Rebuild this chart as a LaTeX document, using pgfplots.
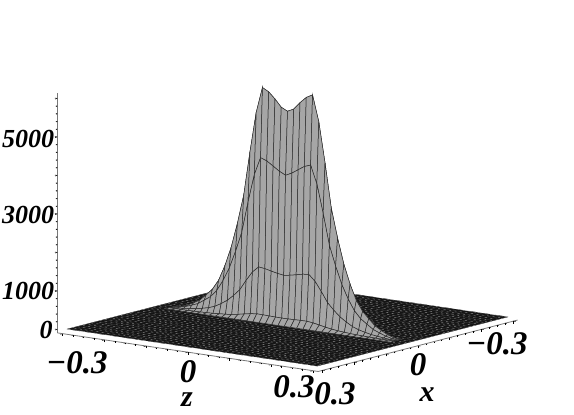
\documentclass[border=0pt]{standalone}
\usepackage{pgfplots}
\pgfplotsset{compat=1.18}
\usepackage{fontspec}
\setmainfont{Liberation Serif}
\definecolor{ridge}{HTML}{A6A6A6}
\definecolor{meshc}{HTML}{2C2C2C}
\definecolor{floorc}{HTML}{141414}
\definecolor{floorl}{HTML}{3A3A3A}
\definecolor{floord}{HTML}{9A9A9A}
\definecolor{axisc}{HTML}{777777}
\newcommand{\lab}[3]{\node[font=\fontsize{#3}{#3}\selectfont\bfseries\itshape,inner sep=0pt] at (#1) {#2};}
\pgfplotsset{common/.style={
  at={(287.5pt,92pt)},anchor=origin,
  disabledatascaling,
  y={(318pt,82pt)},z={(0pt,0.0385pt)},
  xmin=-0.3126,xmax=0.3126,ymin=-0.3135,ymax=0.3135,zmin=-90,zmax=6130,
  axis line style={-,color=axisc,line width=0.8pt},
  tick align=outside,
  major tick length=2.5pt,minor tick length=1.5pt,
  tick style={black,line width=0.5pt},
  xtick={-0.3,-0.2,-0.1,0,0.1,0.2,0.3},ytick={-0.3,-0.2,-0.1,0,0.1,0.2,0.3},
  ztick={0,1000,2000,3000,4000,5000,6000},
  minor x tick num=3,minor y tick num=3,minor z tick num=4,
  xticklabel=\empty,yticklabel=\empty,zticklabel=\empty,
  grid=none,clip=false}}
\begin{document}
\begin{tikzpicture}[x=1pt,y=1pt]
\useasboundingbox (0,0) rectangle (574,415);
\begin{axis}[common,x={(417pt,-61.7pt)},
  axis x line*=bottom,axis y line=none,axis z line*=left,
  colormap={ridgemap}{color=(ridge) color=(ridge)},
]
% floor
\addplot3[fill=floorc,draw=none] coordinates {(-0.3,-0.3,0)(0.3,-0.3,0)(0.3,0.3,0)(-0.3,0.3,0)};
\addplot3[no marks,color=floorl,line width=0.3pt] coordinates {
(-0.3,-0.3,0)(-0.3,0.3,0)(-0.285,0.3,0)(-0.285,-0.3,0)(-0.27,-0.3,0)(-0.27,0.3,0)(-0.255,0.3,0)(-0.255,-0.3,0)
(-0.24,-0.3,0)(-0.24,0.3,0)(-0.225,0.3,0)(-0.225,-0.3,0)(-0.21,-0.3,0)(-0.21,0.3,0)(-0.195,0.3,0)(-0.195,-0.3,0)
(-0.18,-0.3,0)(-0.18,0.3,0)(-0.165,0.3,0)(-0.165,-0.3,0)(-0.15,-0.3,0)(-0.15,0.3,0)(-0.135,0.3,0)(-0.135,-0.3,0)
(-0.12,-0.3,0)(-0.12,0.3,0)(-0.105,0.3,0)(-0.105,-0.3,0)(-0.09,-0.3,0)(-0.09,0.3,0)(-0.075,0.3,0)(-0.075,-0.3,0)
(-0.06,-0.3,0)(-0.06,0.3,0)(-0.045,0.3,0)(-0.045,-0.3,0)(-0.03,-0.3,0)(-0.03,0.3,0)(-0.015,0.3,0)(-0.015,-0.3,0)
(0,-0.3,0)(0,0.3,0)(0.015,0.3,0)(0.015,-0.3,0)(0.03,-0.3,0)(0.03,0.3,0)(0.045,0.3,0)(0.045,-0.3,0)
(0.06,-0.3,0)(0.06,0.3,0)(0.075,0.3,0)(0.075,-0.3,0)(0.09,-0.3,0)(0.09,0.3,0)(0.105,0.3,0)(0.105,-0.3,0)
(0.12,-0.3,0)(0.12,0.3,0)(0.135,0.3,0)(0.135,-0.3,0)(0.15,-0.3,0)(0.15,0.3,0)(0.165,0.3,0)(0.165,-0.3,0)
(0.18,-0.3,0)(0.18,0.3,0)(0.195,0.3,0)(0.195,-0.3,0)(0.21,-0.3,0)(0.21,0.3,0)(0.225,0.3,0)(0.225,-0.3,0)
(0.24,-0.3,0)(0.24,0.3,0)(0.255,0.3,0)(0.255,-0.3,0)(0.27,-0.3,0)(0.27,0.3,0)(0.285,0.3,0)(0.285,-0.3,0)
(0.3,-0.3,0)(0.3,0.3,0)};
\addplot3[no marks,color=floord,line width=0.35pt,dash pattern=on 2pt off 3.5pt] coordinates {
(-0.3,-0.3,0)(0.3,-0.3,0)(0.3,-0.285,0)(-0.3,-0.285,0)(-0.3,-0.27,0)(0.3,-0.27,0)(0.3,-0.255,0)(-0.3,-0.255,0)
(-0.3,-0.24,0)(0.3,-0.24,0)(0.3,-0.225,0)(-0.3,-0.225,0)(-0.3,-0.21,0)(0.3,-0.21,0)(0.3,-0.195,0)(-0.3,-0.195,0)
(-0.3,-0.18,0)(0.3,-0.18,0)(0.3,-0.165,0)(-0.3,-0.165,0)(-0.3,-0.15,0)(0.3,-0.15,0)(0.3,-0.135,0)(-0.3,-0.135,0)
(-0.3,-0.12,0)(0.3,-0.12,0)(0.3,-0.105,0)(-0.3,-0.105,0)(-0.3,-0.09,0)(0.3,-0.09,0)(0.3,-0.075,0)(-0.3,-0.075,0)
(-0.3,-0.06,0)(0.3,-0.06,0)(0.3,-0.045,0)(-0.3,-0.045,0)(-0.3,-0.03,0)(0.3,-0.03,0)(0.3,-0.015,0)(-0.3,-0.015,0)
(-0.3,0,0)(0.3,0,0)(0.3,0.015,0)(-0.3,0.015,0)(-0.3,0.03,0)(0.3,0.03,0)(0.3,0.045,0)(-0.3,0.045,0)
(-0.3,0.06,0)(0.3,0.06,0)(0.3,0.075,0)(-0.3,0.075,0)(-0.3,0.09,0)(0.3,0.09,0)(0.3,0.105,0)(-0.3,0.105,0)
(-0.3,0.12,0)(0.3,0.12,0)(0.3,0.135,0)(-0.3,0.135,0)(-0.3,0.15,0)(0.3,0.15,0)(0.3,0.165,0)(-0.3,0.165,0)
(-0.3,0.18,0)(0.3,0.18,0)(0.3,0.195,0)(-0.3,0.195,0)(-0.3,0.21,0)(0.3,0.21,0)(0.3,0.225,0)(-0.3,0.225,0)
(-0.3,0.24,0)(0.3,0.24,0)(0.3,0.255,0)(-0.3,0.255,0)(-0.3,0.27,0)(0.3,0.27,0)(0.3,0.285,0)(-0.3,0.285,0)
(-0.3,0.3,0)(0.3,0.3,0)};
% ridge surface: rows back to front
\addplot3[surf,shader=faceted,faceted color=meshc,line width=0.5pt,z buffer=none,mesh/rows=6,mesh/cols=37] table[x=u,y=v,z=f] {
u v f
-0.27 0.006 0
-0.255 0.006 0
-0.24 0.006 0
-0.225 0.006 0
-0.21 0.006 0
-0.195 0.006 0
-0.18 0.006 0
-0.165 0.006 0
-0.15 0.006 0
-0.135 0.006 0
-0.12 0.006 0
-0.105 0.006 0
-0.09 0.006 0
-0.075 0.006 0
-0.06 0.006 0
-0.045 0.006 0
-0.03 0.006 0
-0.015 0.006 0
0 0.006 0
0.015 0.006 0
0.03 0.006 0
0.045 0.006 0
0.06 0.006 0
0.075 0.006 0
0.09 0.006 0
0.105 0.006 0
0.12 0.006 0
0.135 0.006 0
0.15 0.006 0
0.165 0.006 0
0.18 0.006 0
0.195 0.006 0
0.21 0.006 0
0.225 0.006 0
0.24 0.006 0
0.255 0.006 0
0.27 0.006 0
-0.27 0 0
-0.255 0 25
-0.24 0 80
-0.225 0 165
-0.21 0 260
-0.195 0 420
-0.18 0 590
-0.165 0 850
-0.15 0 1250
-0.135 0 1750
-0.12 0 2400
-0.105 0 3150
-0.09 0 4300
-0.075 0 5350
-0.06 0 6020
-0.045 0 5930
-0.03 0 5770
-0.015 0 5580
0 0 5500
0.015 0 5580
0.03 0 5770
0.045 0 5930
0.06 0 6020
0.075 0 5350
0.09 0 4300
0.105 0 3150
0.12 0 2400
0.135 0 1750
0.15 0 1250
0.165 0 850
0.18 0 590
0.195 0 420
0.21 0 260
0.225 0 165
0.24 0 80
0.255 0 25
0.27 0 0
-0.27 -0.006 0
-0.255 -0.006 18
-0.24 -0.006 55
-0.225 -0.006 115
-0.21 -0.006 180
-0.195 -0.006 295
-0.18 -0.006 410
-0.165 -0.006 595
-0.15 -0.006 875
-0.135 -0.006 1225
-0.12 -0.006 1680
-0.105 -0.006 2200
-0.09 -0.006 3010
-0.075 -0.006 3745
-0.06 -0.006 4210
-0.045 -0.006 4150
-0.03 -0.006 4040
-0.015 -0.006 3930
0 -0.006 3850
0.015 -0.006 3930
0.03 -0.006 4040
0.045 -0.006 4150
0.06 -0.006 4210
0.075 -0.006 3745
0.09 -0.006 3010
0.105 -0.006 2200
0.12 -0.006 1680
0.135 -0.006 1225
0.15 -0.006 875
0.165 -0.006 595
0.18 -0.006 410
0.195 -0.006 295
0.21 -0.006 180
0.225 -0.006 115
0.24 -0.006 55
0.255 -0.006 18
0.27 -0.006 0
-0.27 -0.012 0
-0.255 -0.012 5
-0.24 -0.012 20
-0.225 -0.012 40
-0.21 -0.012 60
-0.195 -0.012 95
-0.18 -0.012 135
-0.165 -0.012 195
-0.15 -0.012 290
-0.135 -0.012 400
-0.12 -0.012 550
-0.105 -0.012 725
-0.09 -0.012 990
-0.075 -0.012 1230
-0.06 -0.012 1385
-0.045 -0.012 1365
-0.03 -0.012 1325
-0.015 -0.012 1290
0 -0.012 1265
0.015 -0.012 1290
0.03 -0.012 1325
0.045 -0.012 1365
0.06 -0.012 1385
0.075 -0.012 1230
0.09 -0.012 990
0.105 -0.012 725
0.12 -0.012 550
0.135 -0.012 400
0.15 -0.012 290
0.165 -0.012 195
0.18 -0.012 135
0.195 -0.012 95
0.21 -0.012 60
0.225 -0.012 40
0.24 -0.012 20
0.255 -0.012 5
0.27 -0.012 0
-0.27 -0.018 0
-0.255 -0.018 1
-0.24 -0.018 2
-0.225 -0.018 5
-0.21 -0.018 8
-0.195 -0.018 12
-0.18 -0.018 18
-0.165 -0.018 25
-0.15 -0.018 38
-0.135 -0.018 50
-0.12 -0.018 70
-0.105 -0.018 95
-0.09 -0.018 130
-0.075 -0.018 160
-0.06 -0.018 180
-0.045 -0.018 178
-0.03 -0.018 173
-0.015 -0.018 168
0 -0.018 165
0.015 -0.018 168
0.03 -0.018 173
0.045 -0.018 178
0.06 -0.018 180
0.075 -0.018 160
0.09 -0.018 130
0.105 -0.018 95
0.12 -0.018 70
0.135 -0.018 50
0.15 -0.018 38
0.165 -0.018 25
0.18 -0.018 18
0.195 -0.018 12
0.21 -0.018 8
0.225 -0.018 5
0.24 -0.018 2
0.255 -0.018 1
0.27 -0.018 0
-0.27 -0.03 0
-0.255 -0.03 0
-0.24 -0.03 0
-0.225 -0.03 0
-0.21 -0.03 0
-0.195 -0.03 0
-0.18 -0.03 0
-0.165 -0.03 0
-0.15 -0.03 0
-0.135 -0.03 0
-0.12 -0.03 0
-0.105 -0.03 0
-0.09 -0.03 0
-0.075 -0.03 0
-0.06 -0.03 0
-0.045 -0.03 0
-0.03 -0.03 0
-0.015 -0.03 0
0 -0.03 0
0.015 -0.03 0
0.03 -0.03 0
0.045 -0.03 0
0.06 -0.03 0
0.075 -0.03 0
0.09 -0.03 0
0.105 -0.03 0
0.12 -0.03 0
0.135 -0.03 0
0.15 -0.03 0
0.165 -0.03 0
0.18 -0.03 0
0.195 -0.03 0
0.21 -0.03 0
0.225 -0.03 0
0.24 -0.03 0
0.255 -0.03 0
0.27 -0.03 0
};
\end{axis}
\begin{axis}[common,x={(-417pt,61.7pt)},
  axis x line=none,axis y line*=left,axis z line=none]
\end{axis}
\lab{28,276}{5000}{26}
\lab{28,200}{3000}{26}
\lab{28,124}{1000}{26}
\lab{46,85}{0}{26}
\lab{77,52}{−0.3}{33}
\lab{188,43}{0}{33}
\lab{294,28}{0.3}{33}
\lab{187,15}{z}{30}
\lab{497,71}{−0.3}{33}
\lab{418,50}{0}{33}
\lab{335,21}{0.3}{33}
\lab{427,20}{x}{30}
\end{tikzpicture}
\end{document}
